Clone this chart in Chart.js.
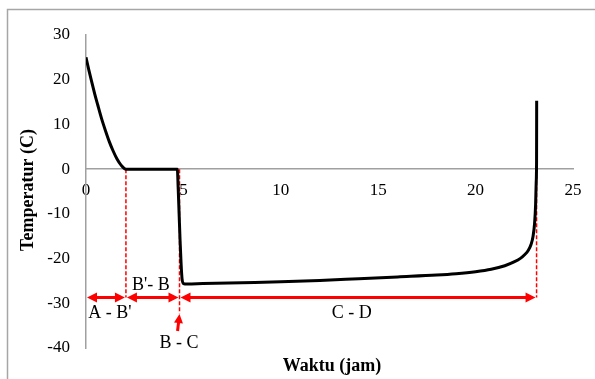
<!DOCTYPE html>
<html>
<head>
<meta charset="utf-8">
<script src="https://cdn.jsdelivr.net/npm/chart.js@4.4.1/dist/chart.umd.min.js"></script>
<style>
html,body{margin:0;padding:0;background:#fff;}
#wrap{width:595px;height:379px;position:relative;}
</style>
</head>
<body>
<div id="wrap"><canvas id="c" width="595" height="379"></canvas></div>
<script>
// Data
const timeValues = [0, 0.15, 0.3, 0.45, 0.6, 0.8, 1.0, 1.2, 1.4, 1.6, 1.8, 2.05, 3.0, 4.0, 4.69, 4.73, 4.78, 4.83, 4.88, 4.93, 5.0, 5.2, 6, 8, 10, 12, 14, 16, 18, 19, 20, 20.8, 21.5, 22, 22.3, 22.5, 22.7, 22.85, 22.95, 23.03, 23.08, 23.11, 23.13, 23.135];
const tempValues = [25, 22.1, 19.4, 16.8, 14.4, 11.3, 8.6, 6.1, 4.0, 2.2, 0.9, 0, 0, 0, 0, -4, -10, -16, -21, -24.5, -25.6, -25.7, -25.6, -25.4, -25.2, -24.9, -24.5, -24.1, -23.7, -23.4, -22.95, -22.4, -21.6, -20.7, -19.95, -19.2, -18.2, -16.8, -15.0, -12.0, -8.0, -3.0, 2.0, 15.3];
const xTickValues = [0, 5, 10, 15, 20, 25];
const yTickValues = [-40, -30, -20, -10, 0, 10, 20, 30];

// Annotation content (in data units)
const markerTimes = [2.05, 4.8, 23.13];
const markerBottoms = [-28.7, -32.3, -28.7];
const arrowStarts = [0, 2.05, 4.8];
const arrowEnds = [2.05, 4.8, 23.13];
const arrowLevel = -28.7;
const phaseLabels = ["A - B'", "B'- B", "C - D", "B - C"];
const phaseLabelX = [1.23, 3.33, 13.64, 4.77];
const phaseLabelY = [-32.2, -26.0, -32.2, -38.9];
const bcArrowFrom = [4.7, -36.2];
const bcArrowTo = [4.8, -32.4];
const xTitle = 'Waktu (jam)';
const yTitle = 'Temperatur (C)';

const RED = '#ff0000';
const SERIF = "'Liberation Serif', 'Times New Roman', serif";

function arrowHead(ctx, x1, y1, x2, y2, len, wid) {
  const a = Math.atan2(y2 - y1, x2 - x1);
  ctx.beginPath();
  ctx.moveTo(x2, y2);
  ctx.lineTo(x2 - len * Math.cos(a) + wid / 2 * Math.sin(a), y2 - len * Math.sin(a) - wid / 2 * Math.cos(a));
  ctx.lineTo(x2 - len * Math.cos(a) - wid / 2 * Math.sin(a), y2 - len * Math.sin(a) + wid / 2 * Math.cos(a));
  ctx.closePath();
  ctx.fill();
}

const framePlugin = {
  id: 'frame',
  beforeDraw(chart) {
    const ctx = chart.ctx;
    ctx.save();
    ctx.fillStyle = '#fff';
    ctx.fillRect(0, 0, chart.width, chart.height);
    ctx.strokeStyle = '#a6a6a6';
    ctx.lineWidth = 1.5;
    ctx.beginPath();
    ctx.moveTo(7.5, 390);
    ctx.lineTo(7.5, 9.5);
    ctx.lineTo(600, 9.5);
    ctx.stroke();
    ctx.restore();
  }
};

const annotPlugin = {
  id: 'annot',
  beforeDatasetsDraw(chart) {
    const ctx = chart.ctx, xs = chart.scales.x, ys = chart.scales.y;
    ctx.save();
    ctx.strokeStyle = RED;
    ctx.lineWidth = 1.5;
    ctx.setLineDash([4, 2]);
    markerTimes.forEach((t, i) => {
      const px = xs.getPixelForValue(t);
      ctx.beginPath();
      ctx.moveTo(px, ys.getPixelForValue(0));
      ctx.lineTo(px, ys.getPixelForValue(markerBottoms[i]));
      ctx.stroke();
    });
    ctx.restore();
  },
  afterDatasetsDraw(chart) {
    const ctx = chart.ctx, xs = chart.scales.x, ys = chart.scales.y;
    ctx.save();
    ctx.strokeStyle = RED;
    ctx.fillStyle = RED;
    ctx.lineWidth = 3;
    const ay = ys.getPixelForValue(arrowLevel);
    arrowStarts.forEach((s, i) => {
      const x1 = xs.getPixelForValue(s) + 1, x2 = xs.getPixelForValue(arrowEnds[i]) - 1;
      ctx.beginPath();
      ctx.moveTo(x1 + 6, ay);
      ctx.lineTo(x2 - 6, ay);
      ctx.stroke();
      arrowHead(ctx, x2, ay, x1, ay, 10, 10);
      arrowHead(ctx, x1, ay, x2, ay, 10, 10);
    });
    // B - C arrow
    const bx1 = xs.getPixelForValue(bcArrowFrom[0]), by1 = ys.getPixelForValue(bcArrowFrom[1]);
    const bx2 = xs.getPixelForValue(bcArrowTo[0]), by2 = ys.getPixelForValue(bcArrowTo[1]);
    ctx.beginPath();
    ctx.moveTo(bx1, by1);
    ctx.lineTo(bx2 - (bx2 - bx1) * 0.4, by2 + (by1 - by2) * 0.4);
    ctx.stroke();
    arrowHead(ctx, bx1, by1, bx2, by2, 9, 9);

    // labels
    ctx.fillStyle = '#000';
    ctx.font = '18px ' + SERIF;
    ctx.textAlign = 'center';
    ctx.textBaseline = 'middle';
    phaseLabels.forEach((l, i) => {
      ctx.fillText(l, xs.getPixelForValue(phaseLabelX[i]), ys.getPixelForValue(phaseLabelY[i]));
    });
    // axis titles
    ctx.font = 'bold 18px ' + SERIF;
    ctx.fillText(xTitle, 332, 366);
    ctx.translate(28, 190);
    ctx.rotate(-Math.PI / 2);
    ctx.fillText(yTitle, 0, 0);
    ctx.restore();
  }
};

const points = timeValues.map((t, i) => ({ x: t, y: tempValues[i] }));

new Chart(document.getElementById('c'), {
  type: 'line',
  data: {
    datasets: [{
      data: points,
      borderColor: '#000',
      borderWidth: 3,
      pointRadius: 0,
      cubicInterpolationMode: 'monotone',
      fill: false,
      borderJoinStyle: 'round',
      borderCapStyle: 'butt'
    }]
  },
  options: {
    responsive: false,
    animation: false,
    layout: { padding: { left: 0, right: 22, top: 35, bottom: 31 } },
    plugins: { legend: { display: false }, tooltip: { enabled: false } },
    scales: {
      x: {
        type: 'linear',
        min: 0, max: 25,
        position: { y: 0 },
        afterBuildTicks(s) { s.ticks = xTickValues.map(v => ({ value: v })); },
        grid: { display: false, drawTicks: false },
        border: { color: '#a0a0a0', width: 1.5 },
        ticks: { color: '#000', font: { family: SERIF, size: 17 }, padding: 11, maxRotation: 0 }
      },
      y: {
        type: 'linear',
        min: -40, max: 30,
        afterBuildTicks(s) { s.ticks = yTickValues.map(v => ({ value: v })); },
        afterFit(s) { s.width = 86; },
        grid: { display: false, drawTicks: false },
        border: { color: '#a0a0a0', width: 1.5 },
        ticks: { color: '#000', font: { family: SERIF, size: 17 }, padding: 16 }
      }
    }
  },
  plugins: [framePlugin, annotPlugin]
});
</script>
</body>
</html>
